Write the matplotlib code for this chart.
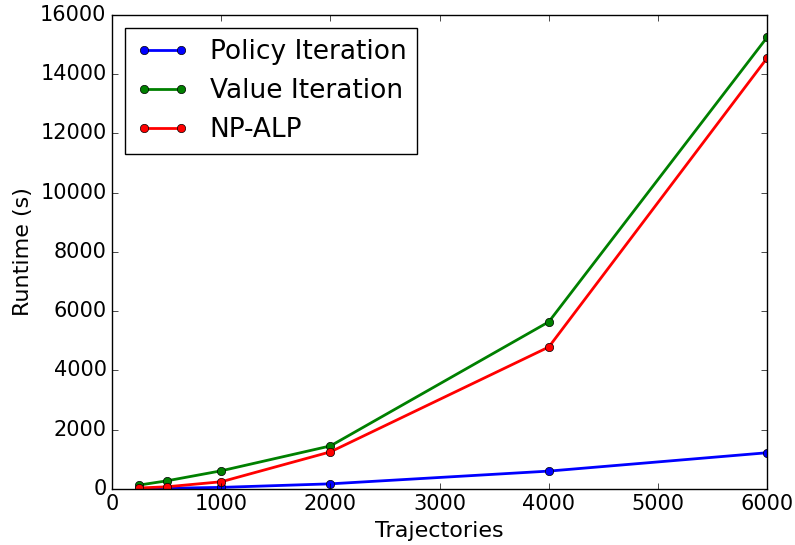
import matplotlib
matplotlib.use("Agg")
import matplotlib.pyplot as plt

plt.style.use('classic')

trajectories = [250, 500, 1000, 2000, 4000, 6000]
policy_iter = [10, 20, 50, 170, 600, 1220]
value_iter = [130, 270, 610, 1450, 5640, 15250]
np_alp = [30, 70, 240, 1250, 4790, 14550]

fig = plt.figure(figsize=(7.95, 5.45), dpi=100)
ax = fig.add_axes([0.141, 0.103, 0.824, 0.8695])
ax.plot(trajectories, policy_iter, 'b-o', lw=2, ms=6, label='Policy Iteration')
ax.plot(trajectories, value_iter, 'g-o', lw=2, ms=6, label='Value Iteration')
ax.plot(trajectories, np_alp, 'r-o', lw=2, ms=6, label='NP-ALP')
ax.set_xlim(0, 6000)
ax.set_ylim(0, 16000)
ax.set_xlabel('Trajectories', fontsize=16)
ax.set_ylabel('Runtime (s)', fontsize=16)
ax.tick_params(labelsize=15)
ax.legend(loc='upper left', fontsize=19, numpoints=2)
fig.savefig('out.png', dpi=100)
